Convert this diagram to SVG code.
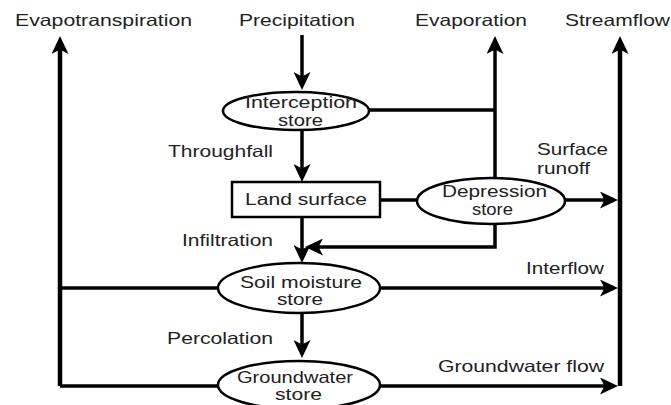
<svg xmlns="http://www.w3.org/2000/svg" width="671" height="405" viewBox="0 0 671 405">
<style>
  text { font-family: "Liberation Sans", Arial, sans-serif; font-size: 16.5px; fill: #222; }
  .node { fill: #fff; stroke: #000; stroke-width: 2.5; }
  .flow { fill: none; stroke: #000; stroke-width: 3.5; }
  .main { fill: none; stroke: #000; stroke-width: 4.5; }
</style>
<defs>
  <marker id="arr" markerUnits="userSpaceOnUse" markerWidth="19" markerHeight="17" viewBox="0 0 19 17" refX="12" refY="8.5" orient="auto">
    <path d="M0,0 L18,8.5 L0,17 L4.5,8.5 Z" fill="#000"/>
  </marker>
</defs>

<g id="labels">
  <text x="15" y="26" textLength="177" lengthAdjust="spacingAndGlyphs">Evapotranspiration</text>
  <text x="239" y="26" textLength="116" lengthAdjust="spacingAndGlyphs">Precipitation</text>
  <text x="415" y="26" textLength="112" lengthAdjust="spacingAndGlyphs">Evaporation</text>
  <text x="565" y="26" textLength="105" lengthAdjust="spacingAndGlyphs">Streamflow</text>
  <text x="168" y="157" textLength="105" lengthAdjust="spacingAndGlyphs">Throughfall</text>
  <text x="182" y="246" textLength="91" lengthAdjust="spacingAndGlyphs">Infiltration</text>
  <text x="537" y="155" textLength="71" lengthAdjust="spacingAndGlyphs">Surface</text>
  <text x="537" y="174" textLength="53" lengthAdjust="spacingAndGlyphs">runoff</text>
  <text x="526" y="274" textLength="78" lengthAdjust="spacingAndGlyphs">Interflow</text>
  <text x="167" y="344" textLength="106" lengthAdjust="spacingAndGlyphs">Percolation</text>
  <text x="438" y="372" textLength="166" lengthAdjust="spacingAndGlyphs">Groundwater flow</text>
</g>

<g id="connectors">
  <path class="main" d="M60,386 L60,42" marker-end="url(#arr)"/>
  <path class="main" d="M620,386 L620,42" marker-end="url(#arr)"/>
  <path class="flow" d="M495,180 L495,42" marker-end="url(#arr)"/>
  <path class="flow" d="M369,110 L495,110"/>
  <path class="flow" d="M302,35 L302,84" marker-end="url(#arr)"/>
  <path class="flow" d="M302,130 L302,176" marker-end="url(#arr)"/>
  <path class="flow" d="M380,200 L418,200"/>
  <path class="flow" d="M565,200 L612,200" marker-end="url(#arr)"/>
  <path class="flow" d="M495,222 L495,247 L311,247" marker-end="url(#arr)"/>
  <path class="flow" d="M302,217 L302,257" marker-end="url(#arr)"/>
  <path class="flow" d="M218,288 L60,288"/>
  <path class="flow" d="M380,288 L612,288" marker-end="url(#arr)"/>
  <path class="flow" d="M302,312 L302,352" marker-end="url(#arr)"/>
  <path class="flow" d="M218,386 L60,386"/>
  <path class="flow" d="M380,386 L612,386" marker-end="url(#arr)"/>
</g>

<g id="interception">
  <ellipse class="node" cx="296" cy="111" rx="73" ry="19"/>
  <text x="245" y="108" textLength="112" lengthAdjust="spacingAndGlyphs">Interception</text>
  <text x="278" y="126" textLength="45" lengthAdjust="spacingAndGlyphs">store</text>
</g>
<g id="land-surface">
  <rect class="node" x="232" y="182" width="148" height="35"/>
  <text x="245" y="205" textLength="122" lengthAdjust="spacingAndGlyphs">Land surface</text>
</g>
<g id="depression">
  <ellipse class="node" cx="491" cy="201" rx="74" ry="23"/>
  <text x="442" y="197" textLength="105" lengthAdjust="spacingAndGlyphs">Depression</text>
  <text x="472" y="215" textLength="41" lengthAdjust="spacingAndGlyphs">store</text>
</g>
<g id="soil-moisture">
  <ellipse class="node" cx="299" cy="288" rx="81" ry="25"/>
  <text x="240" y="288" textLength="122" lengthAdjust="spacingAndGlyphs">Soil moisture</text>
  <text x="277" y="305" textLength="46" lengthAdjust="spacingAndGlyphs">store</text>
</g>
<g id="groundwater">
  <ellipse class="node" cx="299" cy="385" rx="81" ry="24"/>
  <text x="237" y="383" textLength="116" lengthAdjust="spacingAndGlyphs">Groundwater</text>
  <text x="275" y="400" textLength="47" lengthAdjust="spacingAndGlyphs">store</text>
</g>
</svg>
